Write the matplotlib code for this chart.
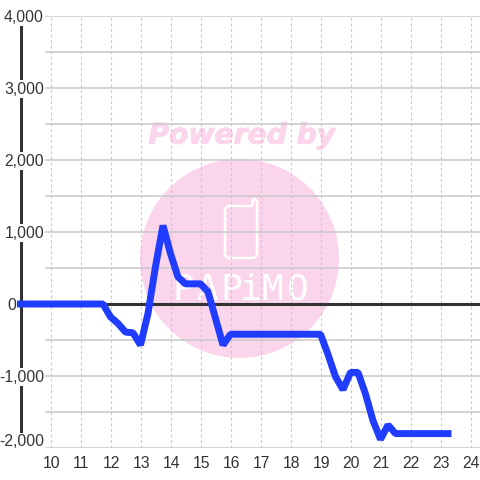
import matplotlib
matplotlib.use("Agg")
import matplotlib.pyplot as plt
import matplotlib.patheffects as pe
from matplotlib.lines import Line2D
from matplotlib.patches import Circle
from matplotlib.transforms import IdentityTransform, blended_transform_factory

hours = [9, 11.75, 12, 12.25, 12.5, 12.75, 13, 13.25, 13.5, 13.75, 14, 14.25, 14.5, 14.75, 15,
         15.25, 15.5, 15.75, 16, 16.25, 17, 18, 19, 19.25, 19.5, 19.75, 20, 20.25, 20.5, 20.75,
         21, 21.25, 21.5, 21.75, 22, 23, 23.25]
values = [0, 0, -180, -270, -390, -400, -570, -130, 520, 1090, 700, 375, 280, 280, 280,
          170, -200, -570, -420, -420, -420, -420, -420, -700, -1010, -1190, -950, -950, -1250, -1620,
          -1880, -1680, -1800, -1800, -1800, -1800, -1800]

y_ticks = [-2000, -1000, 0, 1000, 2000, 3000, 4000]
y_minor = [-1500, -500, 500, 1500, 2500, 3500]
x_ticks = list(range(10, 25))

W = 480
PINK = "#fbd5ec"
DARK = "#333333"
GRID = "#c8c8c8"


def px(x, y):
    # pixel coords from top left -> figure coords
    return x / W, 1 - y / W


fig = plt.figure(figsize=(4.8, 4.8), dpi=100)
ax = fig.add_axes([20.5 / W, 1 - 448 / W, (W - 20.5) / W, 432 / W])
ax.set_xlim(9, 10 + (W - 50.5) / 30)
ax.set_ylim(-2000, 4000)
for s in ax.spines.values():
    s.set_visible(False)
ax.patch.set_visible(False)
ax.tick_params(left=False, bottom=False, labelleft=False, labelbottom=False)

# watermark
T = IdentityTransform()
fig.add_artist(Circle((239.5, W - 258.5), 99.5, transform=T, fc=PINK, ec="none", zorder=-5))
fig.text(*px(242, 135.5), "Powered by", color=PINK, fontsize=20.3, family="DejaVu Sans", weight="bold",
         style="italic", ha="center", va="center", zorder=-5,
         path_effects=[pe.withStroke(linewidth=0.7, foreground=PINK)])
phone_x = [225, 225, 228, 252, 253, 255, 257, 257, 254, 228, 225]
phone_y = [255, 209, 206, 206, 200, 199, 201, 255, 258, 258, 255]
fig.add_artist(Line2D(phone_x, [W - v for v in phone_y], transform=T, color="white", lw=1.8,
                      solid_joinstyle="round", zorder=-4))
for ch, xp in zip("PAPiMO", [183, 207, 231, 251, 272, 298]):
    fig.text(*px(xp, 290), ch, color="white", fontsize=26, family="DejaVu Sans Mono",
             ha="center", va="center", zorder=-4)

# grid
ax.hlines(y_ticks + y_minor, 9.82, 24.4, color=GRID, lw=1.1, zorder=1)
ax.vlines(x_ticks, -2000, 4000, color=GRID, lw=0.8, linestyles=(0, (2.5, 2.5)), zorder=1)

# axes lines
ax.plot([9, 9], [-2000, 4000], color=DARK, lw=2.2, zorder=2, clip_on=False, solid_capstyle="butt")
ax.plot([9, 24.4], [0, 0], color=DARK, lw=2.2, zorder=2)

# tick labels, the bottom one sits higher and zero is left of the axis line
label_tr = blended_transform_factory(fig.transFigure, ax.transData)
for v in y_ticks:
    right = 16.5 if v == 0 else 44
    shift = 90 if v == -2000 else -15
    ax.text(right / W, v + shift, f"{v:,}", transform=label_tr, ha="right", va="center", fontsize=11.3,
            family="Liberation Sans", color=DARK, zorder=4, clip_on=False,
            bbox=dict(fc="white", ec="none", pad=1.0))
for h in x_ticks:
    ax.text(h + 0.02, -2110, str(h), ha="center", va="top", fontsize=11.3,
            family="Liberation Sans", color=DARK, zorder=4, clip_on=False)

# series
ax.plot(hours, values, color="#1f3cff", lw=5, zorder=5, clip_on=False, solid_capstyle="projecting",
        solid_joinstyle="bevel")

fig.savefig("out.png", dpi=100)
